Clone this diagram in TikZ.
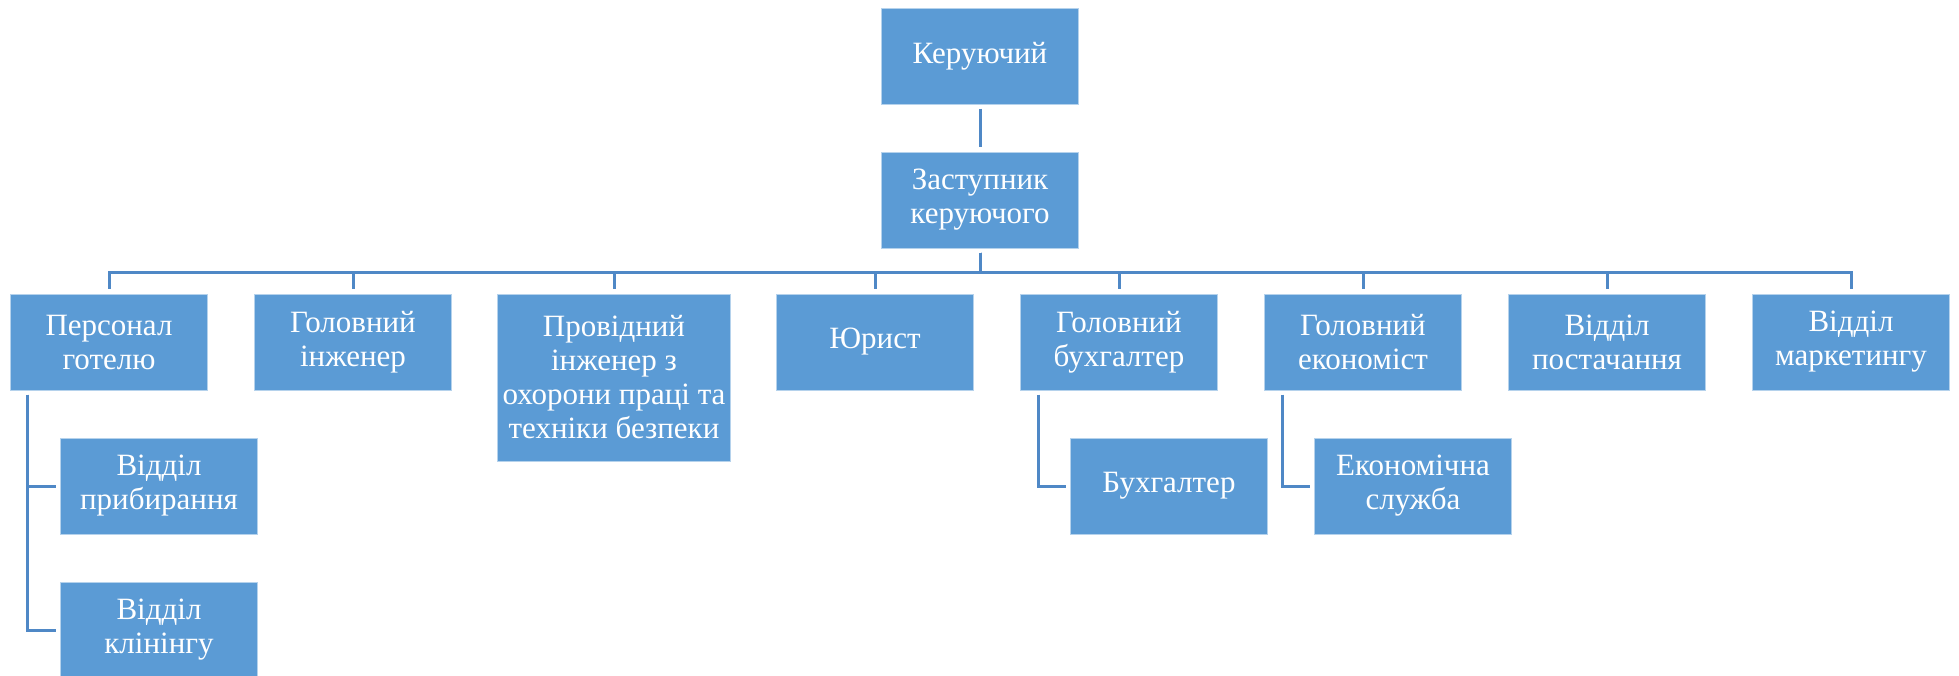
\documentclass[tikz,border=0pt]{standalone}
\usepackage{fontspec}
\setmainfont{Liberation Serif}
\usetikzlibrary{positioning}
\definecolor{boxblue}{HTML}{5B9BD5}
\definecolor{linkblue}{HTML}{4F88C6}
\tikzset{
  orgbox/.style={rectangle, fill=boxblue, draw=white!55!boxblue, line width=0.5pt,
    text=white, align=center, inner sep=1pt, minimum width=98.5pt, minimum height=48pt,
    font=\fontsize{15.5}{17}\selectfont},
  link/.style={draw=linkblue, line width=1.5pt, shorten <=2pt, shorten >=2.25pt}
}

\begin{document}
\begin{tikzpicture}[x=0.5pt,y=-0.5pt,node distance=23.5pt]
   \useasboundingbox (0,0) rectangle (1959,675);
   \node[orgbox] (ker) at (980,56) {Керуючий};
   \node[orgbox] (zast) [below=of ker] {Заступник\\керуючого};
   \node[orgbox] (pers) at (109,342) {Персонал\\готелю};
   \node[orgbox] (inzh) [right=23pt of pers] {Головний\\інженер};
   \node[orgbox,minimum width=116.5pt,minimum height=83.5pt] (provid) [right=22.5pt of inzh.north east,anchor=north west] {Провідний\\інженер з\\охорони праці та\\техніки безпеки};
   \node[orgbox] (jurist) [right=22.5pt of provid.north east,anchor=north west] {Юрист};
   \node[orgbox] (golbuh) [right=23pt of jurist] {Головний\\бухгалтер};
   \node[orgbox] (ekon) [right=23pt of golbuh] {Головний\\економіст};
   \node[orgbox] (postach) [right=23pt of ekon] {Відділ\\постачання};
   \node[orgbox] (market) [right=23pt of postach] {Відділ\\маркетингу};
   \node[orgbox] (prib) [below=of pers,xshift=25pt] {Відділ\\прибирання};
   \node[orgbox] (klin) [below=of prib] {Відділ\\клінінгу};
   \node[orgbox] (buh) [below=of golbuh,xshift=25pt] {Бухгалтер};
   \node[orgbox] (ekserv) [below=of ekon,xshift=25pt] {Економічна\\служба};
    \draw[link] (ker) -- (zast);
    \foreach \n in {pers,inzh,provid,jurist,golbuh,ekon,postach,market}
      \draw[link] (zast.south) -- ++(0,-11.75pt) -| (\n.north);
    \draw[link] ([xshift=8.75pt]pers.south west) |- (prib.west);
    \draw[link] ([xshift=8.75pt]pers.south west) |- (klin.west);
    \draw[link] ([xshift=9pt]golbuh.south west) |- (buh.west);
    \draw[link] ([xshift=9pt]ekon.south west) |- (ekserv.west);
\end{tikzpicture}
\end{document}
